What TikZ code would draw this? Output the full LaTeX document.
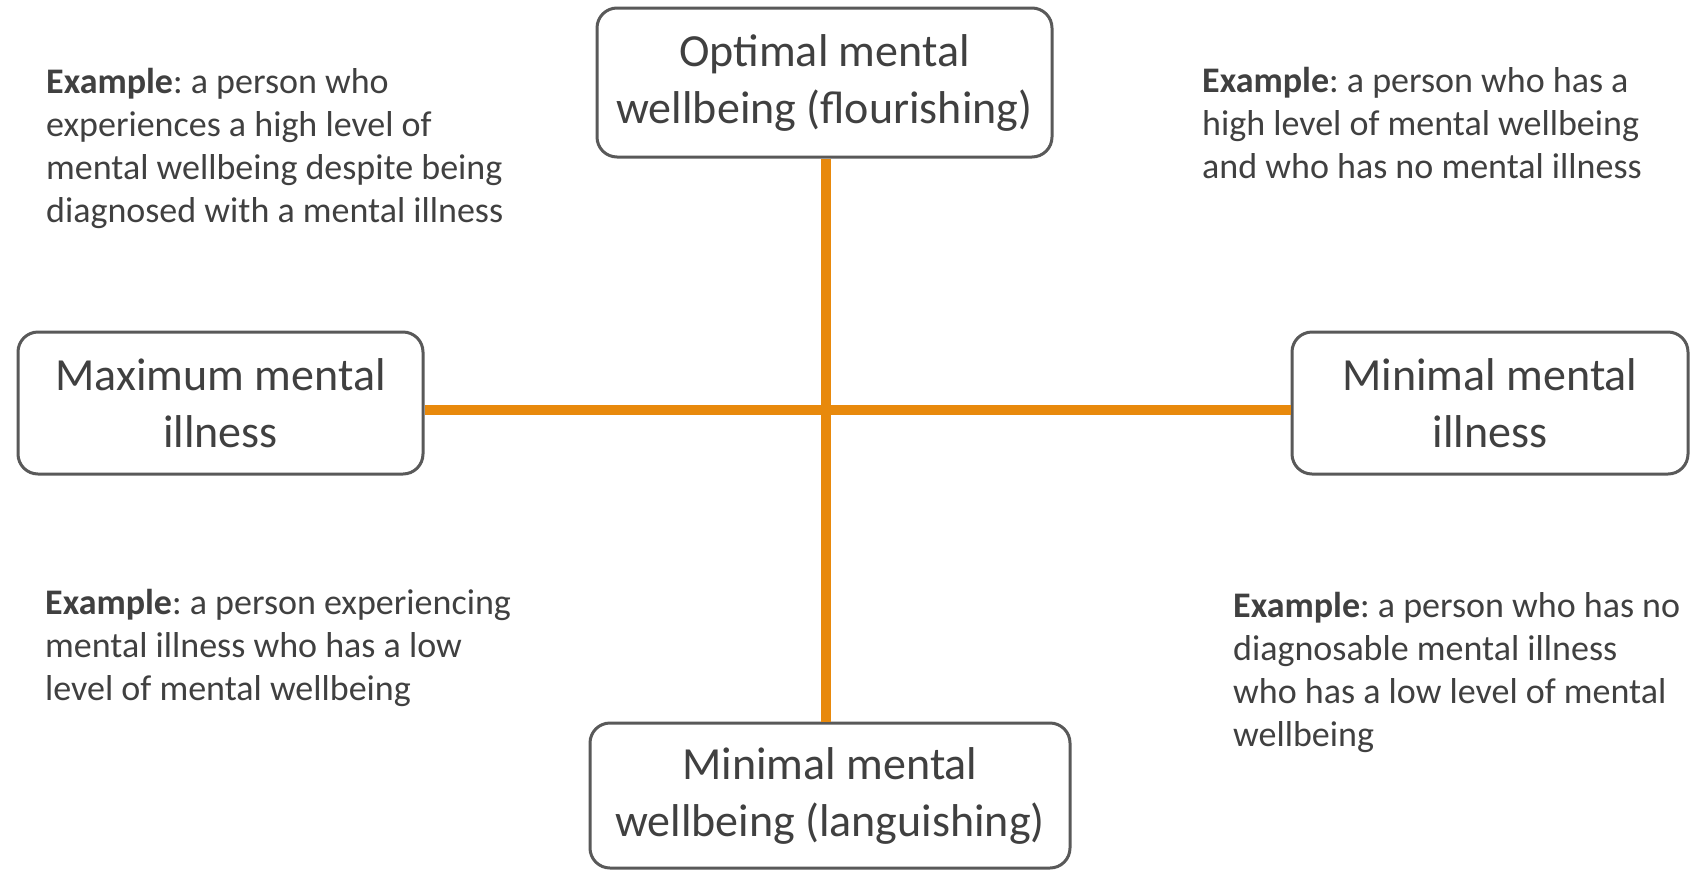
\documentclass[tikz,border=0pt]{standalone}
\usepackage{fontspec}
\setmainfont{Carlito}
\frenchspacing
\definecolor{axisorange}{HTML}{E8890C}
\definecolor{boxgray}{HTML}{595959}
\definecolor{textgray}{HTML}{404040}

\begin{document}
\begin{tikzpicture}[
            x=1pt, y=-1pt,
            box/.style={rectangle, rounded corners=20pt, draw=boxgray, line width=3pt, fill=white,
                align=center, text=textgray, inner sep=0pt, font=\fontsize{46}{57}\selectfont},
            example/.style={anchor=north west, align=left, inner sep=0pt, text=textgray,
                font=\fontsize{36}{43}\selectfont},
            axis/.style={draw=axisorange, line width=10pt}
        ]
        \useasboundingbox (0,0) rectangle (1690,871);

        % Nodes
        \node[box, minimum width=455pt, minimum height=149pt] (flourish) at (824.5,82.5) {Optimal mental\\wellbeing (flourishing)};
        \node[box, minimum width=480pt, minimum height=145pt] (languish) at (830,795.5) {Minimal mental\\wellbeing (languishing)};
        \node[box, minimum width=405pt, minimum height=142pt] (maxill) at (220.5,403) {Maximum mental\\illness};
        \node[box, minimum width=396pt, minimum height=142pt] (minill) at (1490,403) {Minimal mental\\illness};
        \coordinate (cross) at (826,410);

        % Axes
        \draw[axis] (flourish.south -| cross) -- (languish.north -| cross);
        \draw[axis] (maxill.east |- cross) -- (minill.west |- cross);

        % Examples
        \node[example] (exTL) at (46,68) {\textbf{Example}: a person who\\experiences a high level of\\mental wellbeing despite being\\diagnosed with a mental illness};
        \node[example] (exTR) at (1202,67) {\textbf{Example}: a person who has a\\high level of mental wellbeing\\and who has no mental illness};
        \node[example] (exBL) at (45,589) {\textbf{Example}: a person experiencing\\mental illness who has a low\\level of mental wellbeing};
        \node[example] (exBR) at (1233,592) {\textbf{Example}: a person who has no\\diagnosable mental illness\\who has a low level of mental\\wellbeing};

\end{tikzpicture}
\end{document}
